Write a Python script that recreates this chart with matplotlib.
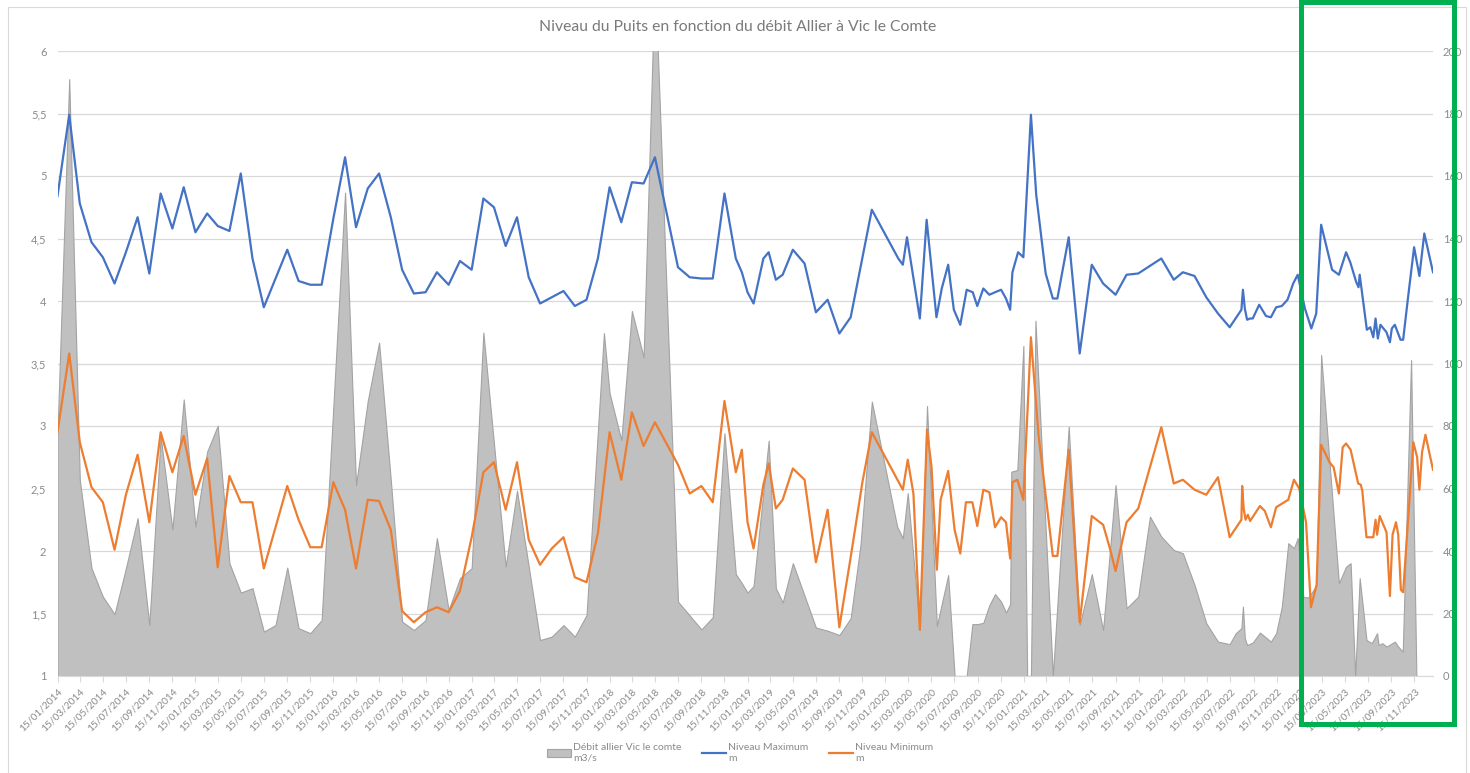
import numpy as np
import pandas as pd
import matplotlib
matplotlib.use("Agg")
import matplotlib.pyplot as plt
import matplotlib.dates as mdates
from matplotlib.patches import Rectangle
from matplotlib.lines import Line2D
from matplotlib.patches import Patch

plt.rcParams["font.family"] = ["Lato", "DejaVu Sans"]

# Niveau Maximum (m)
max_dates = ['2014-01-15', '2014-02-15', '2014-03-15', '2014-04-15', '2014-05-15', '2014-06-15',
             '2014-07-15', '2014-08-15', '2014-09-15', '2014-10-15', '2014-11-15', '2014-12-15',
             '2015-01-15', '2015-02-15', '2015-03-15', '2015-04-15', '2015-05-15', '2015-06-15',
             '2015-07-15', '2015-09-15', '2015-10-15', '2015-11-15', '2015-12-15',
             '2016-01-15', '2016-02-15', '2016-03-15', '2016-04-15', '2016-05-15', '2016-06-15',
             '2016-07-15', '2016-08-15', '2016-09-15', '2016-10-15', '2016-11-15', '2016-12-15',
             '2017-01-15', '2017-02-15', '2017-03-15', '2017-04-15', '2017-05-15', '2017-06-15',
             '2017-07-15', '2017-08-15', '2017-09-15', '2017-10-15', '2017-11-15', '2017-12-15',
             '2018-01-15', '2018-02-15', '2018-03-15', '2018-04-15', '2018-05-15', '2018-07-15',
             '2018-08-15', '2018-09-15', '2018-10-15', '2018-11-15', '2018-12-15', '2018-12-31',
             '2019-01-15', '2019-01-31', '2019-02-26', '2019-03-12', '2019-03-31', '2019-04-18',
             '2019-05-15', '2019-06-15', '2019-07-15', '2019-08-15', '2019-09-15', '2019-10-15',
             '2019-12-10', '2020-02-18', '2020-03-01', '2020-03-12', '2020-04-15', '2020-05-03',
             '2020-05-29', '2020-06-12', '2020-06-29', '2020-07-14', '2020-07-31', '2020-08-17',
             '2020-09-02', '2020-09-14', '2020-09-30', '2020-10-16', '2020-10-31', '2020-11-16',
             '2020-11-29', '2020-12-10', '2020-12-16', '2020-12-31', '2021-01-14', '2021-02-03',
             '2021-02-17', '2021-03-14', '2021-04-02', '2021-04-14', '2021-05-14', '2021-06-12',
             '2021-07-14', '2021-08-13', '2021-09-15', '2021-10-14', '2021-11-14', '2022-01-14',
             '2022-02-16', '2022-03-12', '2022-04-12', '2022-05-13', '2022-06-13', '2022-07-14',
             '2022-08-14', '2022-08-18', '2022-08-23', '2022-08-29', '2022-09-06', '2022-09-13',
             '2022-09-30', '2022-10-18', '2022-10-31', '2022-11-14', '2022-11-29', '2022-12-14',
             '2022-12-29', '2023-01-10', '2023-01-29', '2023-02-15', '2023-02-28', '2023-03-13',
             '2023-04-11', '2023-04-29', '2023-05-18', '2023-05-29', '2023-06-14', '2023-06-20',
             '2023-06-23', '2023-07-12', '2023-07-21', '2023-07-29', '2023-08-04', '2023-08-10',
             '2023-08-17', '2023-09-02', '2023-09-11', '2023-09-16', '2023-09-24', '2023-10-09',
             '2023-10-16', '2023-10-29', '2023-11-14', '2023-11-28', '2023-12-11', '2024-01-03']
max_vals = [4.84, 5.49, 4.78, 4.47, 4.35, 4.14,
            4.39, 4.67, 4.22, 4.86, 4.58, 4.91,
            4.55, 4.70, 4.60, 4.56, 5.02, 4.34,
            3.95, 4.41, 4.16, 4.13, 4.13,
            4.66, 5.15, 4.59, 4.90, 5.02, 4.67,
            4.25, 4.06, 4.07, 4.23, 4.13, 4.32,
            4.25, 4.82, 4.75, 4.44, 4.67, 4.19,
            3.98, 4.03, 4.08, 3.96, 4.01, 4.34,
            4.91, 4.63, 4.95, 4.94, 5.15, 4.27,
            4.19, 4.18, 4.18, 4.86, 4.34, 4.23,
            4.07, 3.98, 4.34, 4.39, 4.17, 4.21,
            4.41, 4.30, 3.91, 4.01, 3.74, 3.87,
            4.73, 4.34, 4.29, 4.51, 3.86, 4.65,
            3.87, 4.10, 4.29, 3.93, 3.81, 4.09,
            4.07, 3.96, 4.10, 4.05, 4.07, 4.09,
            4.02, 3.93, 4.23, 4.39, 4.35, 5.49,
            4.85, 4.22, 4.02, 4.02, 4.51, 3.58,
            4.29, 4.14, 4.05, 4.21, 4.22, 4.34,
            4.17, 4.23, 4.20, 4.03, 3.90, 3.79,
            3.93, 4.09, 3.94, 3.85, 3.86, 3.86,
            3.97, 3.88, 3.87, 3.95, 3.96, 4.01,
            4.14, 4.21, 3.94, 3.78, 3.90, 4.61,
            4.25, 4.21, 4.39, 4.31, 4.15, 4.11,
            4.21, 3.77, 3.79, 3.71, 3.86, 3.70,
            3.81, 3.75, 3.67, 3.78, 3.81, 3.69,
            3.69, 4.03, 4.43, 4.20, 4.54, 4.23]

# Niveau Minimum (m)
min_dates = ['2014-01-15', '2014-02-15', '2014-03-15', '2014-04-15', '2014-05-15', '2014-06-15',
             '2014-07-15', '2014-08-15', '2014-09-15', '2014-10-15', '2014-11-15', '2014-12-15',
             '2015-01-15', '2015-02-15', '2015-03-15', '2015-04-15', '2015-05-15', '2015-06-15',
             '2015-07-15', '2015-08-15', '2015-09-15', '2015-10-15', '2015-11-15', '2015-12-15',
             '2016-01-15', '2016-02-15', '2016-03-15', '2016-04-15', '2016-05-15', '2016-06-15',
             '2016-07-15', '2016-08-15', '2016-09-15', '2016-10-15', '2016-11-15', '2016-12-15',
             '2017-01-15', '2017-02-15', '2017-03-15', '2017-04-15', '2017-05-15', '2017-06-15',
             '2017-07-15', '2017-08-15', '2017-09-15', '2017-10-15', '2017-11-15', '2017-12-15',
             '2018-01-15', '2018-02-15', '2018-03-15', '2018-04-15', '2018-05-15', '2018-07-15',
             '2018-08-15', '2018-09-15', '2018-10-15', '2018-11-15', '2018-12-15', '2018-12-31',
             '2019-01-15', '2019-01-31', '2019-02-26', '2019-03-12', '2019-03-31', '2019-04-18',
             '2019-05-15', '2019-06-15', '2019-07-15', '2019-08-15', '2019-09-15', '2019-10-15',
             '2019-11-15', '2019-12-10', '2020-03-01', '2020-03-14', '2020-03-29', '2020-04-15',
             '2020-05-04', '2020-05-16', '2020-05-30', '2020-06-09', '2020-06-29', '2020-07-16',
             '2020-07-31', '2020-08-15', '2020-09-01', '2020-09-14', '2020-09-30', '2020-10-16',
             '2020-10-31', '2020-11-16', '2020-11-29', '2020-12-10', '2020-12-16', '2020-12-29',
             '2021-01-14', '2021-02-03', '2021-02-23', '2021-04-02', '2021-04-14', '2021-05-14',
             '2021-06-12', '2021-07-14', '2021-08-13', '2021-08-31', '2021-09-15', '2021-10-14',
             '2021-11-14', '2022-01-14', '2022-02-16', '2022-03-12', '2022-04-12', '2022-05-13',
             '2022-06-13', '2022-07-14', '2022-08-14', '2022-08-16', '2022-08-20', '2022-08-25',
             '2022-08-31', '2022-09-06', '2022-10-02', '2022-10-15', '2022-10-31', '2022-11-14',
             '2022-12-16', '2022-12-31', '2023-01-14', '2023-02-01', '2023-02-14', '2023-03-01',
             '2023-03-13', '2023-04-04', '2023-04-15', '2023-04-29', '2023-05-09', '2023-05-18',
             '2023-05-30', '2023-06-19', '2023-06-26', '2023-06-30', '2023-07-11', '2023-07-29',
             '2023-08-04', '2023-08-08', '2023-08-15', '2023-09-02', '2023-09-11', '2023-09-18',
             '2023-09-27', '2023-10-03', '2023-10-10', '2023-10-16', '2023-11-12', '2023-11-22',
             '2023-11-28', '2023-12-05', '2023-12-14', '2024-01-03']
min_vals = [2.95, 3.58, 2.87, 2.51, 2.39, 2.01,
            2.45, 2.77, 2.23, 2.95, 2.63, 2.92,
            2.45, 2.74, 1.87, 2.60, 2.39, 2.39,
            1.86, 2.19, 2.52, 2.25, 2.03, 2.03,
            2.55, 2.33, 1.86, 2.41, 2.40, 2.17,
            1.52, 1.43, 1.51, 1.55, 1.51, 1.68,
            2.11, 2.63, 2.71, 2.33, 2.71, 2.09,
            1.89, 2.02, 2.11, 1.79, 1.75, 2.14,
            2.95, 2.57, 3.11, 2.84, 3.03, 2.69,
            2.46, 2.52, 2.39, 3.20, 2.63, 2.81,
            2.23, 2.02, 2.53, 2.70, 2.34, 2.41,
            2.66, 2.57, 1.91, 2.33, 1.39, 1.95,
            2.55, 2.95, 2.49, 2.73, 2.46, 1.37,
            2.97, 2.67, 1.85, 2.41, 2.64, 2.17,
            1.98, 2.39, 2.39, 2.20, 2.49, 2.47,
            2.19, 2.27, 2.23, 1.94, 2.55, 2.57,
            2.41, 3.71, 2.93, 1.96, 1.96, 2.81,
            1.43, 2.28, 2.21, 2.02, 1.84, 2.23,
            2.34, 2.99, 2.54, 2.57, 2.49, 2.45,
            2.59, 2.11, 2.25, 2.52, 2.34, 2.25,
            2.29, 2.24, 2.36, 2.32, 2.19, 2.35,
            2.41, 2.57, 2.50, 2.23, 1.55, 1.73,
            2.85, 2.71, 2.67, 2.46, 2.83, 2.86,
            2.81, 2.54, 2.53, 2.48, 2.11, 2.11,
            2.25, 2.13, 2.28, 2.15, 1.64, 2.13,
            2.23, 2.13, 1.69, 1.67, 2.87, 2.75,
            2.49, 2.79, 2.93, 2.65]

# Débit allier Vic le comte (m3/s)
flow_dates = ['2014-01-15', '2014-02-15', '2014-03-15', '2014-04-15', '2014-05-15', '2014-06-15',
              '2014-07-15', '2014-08-15', '2014-09-15', '2014-10-15', '2014-11-15', '2014-12-15',
              '2015-01-15', '2015-02-15', '2015-03-15', '2015-04-15', '2015-05-15', '2015-06-15',
              '2015-07-15', '2015-08-15', '2015-09-15', '2015-10-15', '2015-11-15', '2015-12-15',
              '2016-02-15', '2016-03-15', '2016-04-15', '2016-05-15', '2016-06-15',
              '2016-07-15', '2016-08-15', '2016-09-15', '2016-10-15', '2016-11-15', '2016-12-15',
              '2017-01-15', '2017-02-15', '2017-04-15', '2017-05-15',
              '2017-07-15', '2017-08-15', '2017-09-15', '2017-10-15', '2017-11-15', '2017-12-31',
              '2018-01-15', '2018-02-15', '2018-03-15', '2018-04-15', '2018-05-15', '2018-07-15',
              '2018-09-15', '2018-10-15', '2018-11-15', '2018-12-15', '2018-12-31',
              '2019-01-15', '2019-01-31', '2019-03-12', '2019-03-31', '2019-04-18',
              '2019-05-15', '2019-07-15', '2019-08-15', '2019-09-15', '2019-10-15',
              '2019-11-10', '2019-12-10', '2020-02-15', '2020-03-01', '2020-03-14', '2020-04-15',
              '2020-05-04', '2020-05-30', '2020-06-29', '2020-07-16', '2020-08-17',
              '2020-09-01', '2020-09-14', '2020-09-30', '2020-10-16', '2020-10-31', '2020-11-16',
              '2020-11-29', '2020-12-10', '2020-12-13', '2020-12-29', '2021-01-14', '2021-01-24',
              '2021-02-03', '2021-02-15', '2021-04-02', '2021-05-14', '2021-06-12',
              '2021-07-14', '2021-08-13', '2021-09-15', '2021-10-14', '2021-11-14', '2021-12-15',
              '2022-01-14', '2022-02-16', '2022-03-12', '2022-04-12', '2022-05-13', '2022-06-13',
              '2022-07-14', '2022-07-30', '2022-08-14', '2022-08-18', '2022-08-23', '2022-08-29',
              '2022-09-13', '2022-10-02', '2022-10-31', '2022-11-14', '2022-11-29', '2022-12-16',
              '2022-12-31', '2023-01-10', '2023-01-25', '2023-02-08', '2023-03-01', '2023-03-13',
              '2023-04-29', '2023-05-18', '2023-05-30', '2023-06-11', '2023-06-23', '2023-07-11',
              '2023-07-25', '2023-08-08', '2023-08-12', '2023-08-22', '2023-09-02', '2023-09-24',
              '2023-10-03', '2023-10-15', '2023-11-06', '2023-11-20']
flow_vals = [77.7, 191, 62.7, 34.5, 25.4, 19.8,
             34.5, 50.5, 16.3, 76.6, 46.9, 88.5,
             47.8, 71.8, 80.1, 36.1, 26.7, 28.1,
             14.2, 16.3, 34.7, 15.3, 13.7, 17.9,
             154.7, 61.1, 88.0, 106.7, 62.7,
             17.4, 14.7, 17.9, 44.1, 21.1, 31.3,
             34.5, 109.9, 35.0, 59.3,
             11.5, 12.6, 16.3, 12.6, 19.5, 109.7,
             90.5, 75.5, 116.8, 102.0, 225, 23.8,
             14.9, 18.8, 77.7, 32.6, 29.7,
             26.7, 28.8, 75.3, 28.1, 23.5,
             36.1, 15.5, 14.5, 13.1, 18.5,
             42.0, 87.8, 47.8, 44.1, 58.5, 14.7,
             86.4, 16.0, 32.3, 0, 0,
             16.6, 16.6, 17.0, 22.7, 26.2, 23.8,
             20.3, 23.0, 65.4, 65.9, 105.6, 0,
             0, 113.7, 0, 79.8, 16.3,
             32.6, 14.7, 61.1, 21.7, 25.4, 51.0,
             44.6, 40.3, 39.3, 29.1, 16.9, 11.0,
             10.2, 13.7, 15.3, 22.2, 12.1, 9.9,
             10.7, 13.9, 11.0, 13.7, 22.2, 42.5,
             40.9, 44.1, 25.2, 25.2, 29.1, 102.7,
             29.7, 35.0, 36.1, 0, 31.3, 11.5,
             10.5, 13.7, 9.9, 10.5, 9.4, 11.0,
             9.4, 7.8, 101.1, 0]

title = "Niveau du Puits en fonction du débit Allier à Vic le Comte"
label_flow = "Débit allier Vic le comte\nm3/s"
label_max = "Niveau Maximum\nm"
label_min = "Niveau Minimum\nm"

W, H = 1470, 773
fig = plt.figure(figsize=(W / 100, H / 100), dpi=100)

x0, x1, ytop, ybot = 57.5, 1433, 51, 676
rect = [x0 / W, 1 - ybot / H, (x1 - x0) / W, (ybot - ytop) / H]
ax2 = fig.add_axes(rect)  # débit, right axis, drawn underneath
ax = fig.add_axes(rect, sharex=ax2)  # niveaux, left axis
ax.set_zorder(ax2.get_zorder() + 1)
ax.patch.set_visible(False)

tick_col = "#8a8a8a"
grid_col = "#d9d9d9"

fd = pd.to_datetime(flow_dates)
ax2.fill_between(fd, flow_vals, 0, facecolor="#c0c0c0", edgecolor="#a3a3a3", linewidth=0.8)
ax2.set_ylim(0, 200)
ax2.set_yticks(np.arange(0, 201, 20))
ax2.yaxis.tick_right()
ax2.grid(axis="y", color=grid_col, linewidth=0.9)
ax2.set_axisbelow(True)
ax2.tick_params(axis="y", length=0, pad=7, labelsize=8, labelcolor=tick_col)

ax.plot(pd.to_datetime(max_dates), max_vals, color="#4472c4", linewidth=1.6, label=label_max)
ax.plot(pd.to_datetime(min_dates), min_vals, color="#ed7d31", linewidth=1.6, label=label_min)
ax.set_ylim(1, 6)
ax.set_yticks(np.arange(1, 6.01, 0.5))
ax.yaxis.set_major_formatter(plt.FuncFormatter(lambda v, p: ("%g" % v).replace(".", ",")))
ax.tick_params(axis="y", length=0, pad=8, labelsize=8, labelcolor=tick_col)

ax.set_xlim(pd.Timestamp("2014-01-15"), pd.Timestamp("2024-01-03"))
ax.xaxis.set_major_locator(mdates.MonthLocator(bymonth=[1, 3, 5, 7, 9, 11], bymonthday=15))
ax.xaxis.set_major_formatter(mdates.DateFormatter("%d/%m/%Y"))
ax.tick_params(axis="x", length=4, width=0.8, color=grid_col, pad=4, labelsize=7.3, labelcolor=tick_col)
plt.setp(ax.get_xticklabels(), rotation=45, ha="right", rotation_mode="anchor")
ax2.tick_params(axis="x", length=0, labelbottom=False)

for a in (ax, ax2):
    for s in a.spines.values():
        s.set_visible(False)
ax.spines["bottom"].set_visible(True)
ax.spines["bottom"].set_color(grid_col)

fig.text(737.5 / W, 1 - 27 / H, title, ha="center", va="center", fontsize=11.3, color="#7a7a7a")

handles = [Patch(facecolor="#c0c0c0", edgecolor="#a3a3a3", linewidth=0.8),
           Line2D([], [], color="#4472c4", linewidth=1.6),
           Line2D([], [], color="#ed7d31", linewidth=1.6)]
fig.legend(handles, [label_flow, label_max, label_min], ncol=3, loc="center",
           bbox_to_anchor=(740 / W, 1 - 753 / H), frameon=False, fontsize=7.5,
           labelcolor=tick_col, handlelength=2.3, handletextpad=0.2, columnspacing=2.0)

# chart border and green highlight
fig.patches.append(Rectangle((8 / W, -0.01), (1466 - 8) / W, 1.01 - 7 / H, transform=fig.transFigure,
                             fill=False, edgecolor="#d9d9d9", linewidth=0.8))
fig.patches.append(Rectangle((1300.8 / W, 1 - 724 / H), (1454 - 1300.8) / W, (724 - 1.7) / H,
                             transform=fig.transFigure, fill=False, edgecolor="#00b050", linewidth=3.6))

fig.savefig("out.png", dpi=100)
